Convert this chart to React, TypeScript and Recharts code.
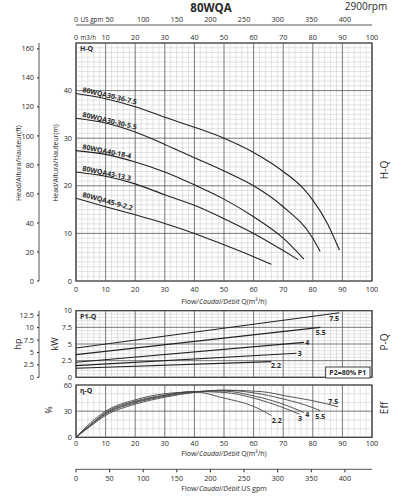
import React from "react";
import { LineChart, Line, XAxis, YAxis, ReferenceLine, ReferenceArea, LabelList } from "recharts";

const FONT = "'Open Sans', 'DejaVu Sans', sans-serif";
const INK = "#2a2a2a";

// secondary scales
const GPM_PER_M3H = 4.4029;
const FT_PER_M = 3.2808;
const HP_PER_KW = 1.341;

const FLOW_TICKS = [0, 10, 20, 30, 40, 50, 60, 70, 80, 90, 100];
const GPM_TICKS = [0, 50, 100, 150, 200, 250, 300, 350, 400];
const HEAD_TICKS = [0, 10, 20, 30, 40];
const FT_TICKS = [0, 20, 40, 60, 80, 100, 120, 140, 160];
const KW_TICKS = [0, 2.5, 5, 7.5, 10];
const HP_TICKS = [0, 2.5, 5, 7.5, 10, 12.5];
const EFF_TICKS = [0, 30, 60];

const MODELS = ["80WQA30-36-7.5", "80WQA30-30-5.5", "80WQA40-18-4", "80WQA43-13.3", "80WQA45-9-2.2"];
const MOTORS = ["7.5", "5.5", "4", "3", "2.2"];

// H-Q curves (m3/h -> m)
const HQ_FLOW_75 = [0, 10, 20, 30, 40, 50, 60, 70, 77, 80, 85, 89];
const HQ_HEAD_75 = [39.4, 38.3, 36.6, 34.4, 32.3, 30, 27, 23, 19.3, 17, 12, 6.5];
const HQ_FLOW_55 = [0, 10, 20, 30, 40, 50, 60, 70, 80, 82.5];
const HQ_HEAD_55 = [34.2, 33.2, 31.3, 28.7, 25.9, 23.1, 20, 15.6, 9, 6.2];
const HQ_FLOW_4 = [0, 10, 20, 30, 40, 50, 60, 70, 77];
const HQ_HEAD_4 = [27.4, 26.6, 25, 22.9, 20.2, 17.2, 13.5, 9, 4.6];
const HQ_FLOW_3 = [0, 10, 20, 30, 40, 50, 60, 70, 75];
const HQ_HEAD_3 = [22.9, 22, 20.4, 18.1, 15.9, 13.1, 10, 6.4, 4.5];
const HQ_FLOW_22 = [0, 10, 20, 30, 40, 50, 60, 66];
const HQ_HEAD_22 = [17.4, 15.6, 13.9, 12.1, 10, 7.6, 5.1, 3.5];

// P1-Q lines (m3/h -> kW)
const PQ_FLOW_75 = [0, 89];
const PQ_KW_75 = [4.4, 9.7];
const PQ_FLOW_55 = [0, 82.5];
const PQ_KW_55 = [3.4, 7.5];
const PQ_FLOW_4 = [0, 77];
const PQ_KW_4 = [2.25, 5.25];
const PQ_FLOW_3 = [0, 74.5];
const PQ_KW_3 = [1.75, 3.6];
const PQ_FLOW_22 = [0, 66];
const PQ_KW_22 = [1.35, 2.35];

// efficiency curves (m3/h -> %)
const EQ_FLOW_75 = [0, 5, 10, 20, 30, 40, 50, 60, 65, 70, 80, 88.6];
const EQ_EFF_75 = [0, 13, 25, 38, 46, 51.5, 54, 53, 51.5, 48, 42, 35];
const EQ_FLOW_55 = [0, 5, 10, 20, 30, 40, 50, 60, 70, 80, 82.5];
const EQ_EFF_55 = [0, 14, 26.5, 39.5, 47, 52, 54, 51, 44, 34, 30.5];
const EQ_FLOW_4 = [0, 5, 10, 20, 30, 40, 50, 60, 70, 77];
const EQ_EFF_4 = [0, 14.5, 27.5, 40.5, 48, 52.5, 53, 47.5, 38, 28.5];
const EQ_FLOW_3 = [0, 5, 10, 20, 30, 40, 50, 60, 70, 75.5];
const EQ_EFF_3 = [0, 15, 28.5, 41.5, 48.5, 52.5, 51.5, 45, 34, 26.5];
const EQ_FLOW_22 = [0, 5, 10, 20, 30, 40, 50, 60, 66];
const EQ_EFF_22 = [0, 17, 30, 43, 50, 52, 45, 35.5, 25];

const zip = (flow: number[], vals: number[]) => flow.map((f, i) => ({ flow: f, v: vals[i] }));

const HQ = [
  zip(HQ_FLOW_75, HQ_HEAD_75),
  zip(HQ_FLOW_55, HQ_HEAD_55),
  zip(HQ_FLOW_4, HQ_HEAD_4),
  zip(HQ_FLOW_3, HQ_HEAD_3),
  zip(HQ_FLOW_22, HQ_HEAD_22),
];
const PQ = [
  zip(PQ_FLOW_75, PQ_KW_75),
  zip(PQ_FLOW_55, PQ_KW_55),
  zip(PQ_FLOW_4, PQ_KW_4),
  zip(PQ_FLOW_3, PQ_KW_3),
  zip(PQ_FLOW_22, PQ_KW_22),
];
const EQ = [
  zip(EQ_FLOW_75, EQ_EFF_75),
  zip(EQ_FLOW_55, EQ_EFF_55),
  zip(EQ_FLOW_4, EQ_EFF_4),
  zip(EQ_FLOW_3, EQ_EFF_3),
  zip(EQ_FLOW_22, EQ_EFF_22),
];

// label placement
const HQ_LABEL = [
  { angle: 13, dx: 6, dy: -1.5 },
  { angle: 13.5, dx: 6, dy: -1.5 },
  { angle: 11, dx: 6, dy: -1.5 },
  { angle: 12, dx: 6, dy: -1.5 },
  { angle: 15.5, dx: 6, dy: -1.5 },
];
const PQ_LABEL = [
  { dx: -5.3, dy: 8.8 },
  { dx: 0.5, dy: 7.5 },
  { dx: 3.4, dy: 2.2 },
  { dx: 3.3, dy: 2.5 },
  { dx: 4.6, dy: 6.8 },
];
const EQ_LABEL = [
  { dx: -5, dy: -2.6 },
  { dx: 0, dy: 8.5 },
  { dx: 3.4, dy: 4.3 },
  { dx: 0.5, dy: 6.6 },
  { dx: 5.3, dy: 7 },
];

const TICK = { fontSize: 7.3, fill: INK, fontFamily: FONT };

const steps = (max: number, step: number) =>
  Array.from({ length: Math.round(max / step) + 1 }, (_, i) => +(i * step).toFixed(2));

function grid(xId: string, yId: string, xMax: number, xMinor: number, xMajor: number, yMax: number, yMinor: number, yMajor: number) {
  const isMajor = (v: number, m: number) => Math.abs(v / m - Math.round(v / m)) < 1e-6;
  const out: React.ReactNode[] = [];
  steps(xMax, xMinor)
    .filter((v) => !isMajor(v, xMajor))
    .forEach((v) => out.push(<ReferenceLine key={`xn${v}`} x={v} xAxisId={xId} yAxisId={yId} stroke="#c6c6c6" strokeWidth={0.5} />));
  steps(yMax, yMinor)
    .filter((v) => !isMajor(v, yMajor))
    .forEach((v) => out.push(<ReferenceLine key={`yn${v}`} y={v} xAxisId={xId} yAxisId={yId} stroke="#c6c6c6" strokeWidth={0.5} />));
  steps(xMax, xMajor).forEach((v) =>
    out.push(<ReferenceLine key={`xj${v}`} x={v} xAxisId={xId} yAxisId={yId} stroke="#555" strokeWidth={0.8} />)
  );
  steps(yMax, yMajor).forEach((v) =>
    out.push(<ReferenceLine key={`yj${v}`} y={v} xAxisId={xId} yAxisId={yId} stroke="#555" strokeWidth={0.8} />)
  );
  return out;
}

function TopTick(props: any) {
  const { x, y, payload, unit } = props;
  return (
    <g>
      <text x={x} y={y - 0.5} textAnchor="middle" fontSize={7.3} fill={INK} fontFamily={FONT}>
        {payload.value}
      </text>
      {payload.value === 0 && (
        <text x={x + 4.5} y={y - 0.5} textAnchor="start" fontSize={6.3} fill={INK} fontFamily={FONT}>
          {unit}
        </text>
      )}
    </g>
  );
}

const flowTitle = (
  <>
    Flow/<tspan fontStyle="italic">Caudal/Débit</tspan> Q(m³/h)
  </>
);

// axis ids: "x1"/"y1" sit next to the plot, "x2"/"y2" outside them
export default function App() {
  return (
    <div style={{ position: "absolute", left: 0, top: 0, width: 415, height: 500, fontFamily: FONT, background: "#fff" }}>
      {/* US gpm strip over the H-Q panel */}
      <div style={{ position: "absolute", left: 0, top: 10 }}>
        <LineChart width={415} height={16} data={HQ[0]} margin={{ top: 0, bottom: 0, left: 76, right: 43 }}>
          <XAxis xAxisId="g" dataKey="flow" type="number" orientation="top" domain={[0, 100 * GPM_PER_M3H]} ticks={GPM_TICKS}
            height={15} interval={0} allowDataOverflow axisLine={{ stroke: INK, strokeWidth: 0.8 }}
            tickLine={false} tickSize={0} tickMargin={3} tick={<TopTick unit="US gpm" />} />
          <YAxis yAxisId="g" dataKey="v" type="number" domain={[0, 50]} hide allowDataOverflow />
        </LineChart>
      </div>

      <div style={{ position: "absolute", left: 0, top: 0 }}>
        <LineChart width={415} height={306} data={HQ[0]} margin={{ top: 25, right: 43, bottom: 0, left: 4 }}>
          <XAxis xAxisId="xt" dataKey="flow" type="number" orientation="top" domain={[0, 100]} ticks={FLOW_TICKS} height={18} interval={0}
            axisLine={false} tickLine={false} tickSize={0} tickMargin={3} tick={<TopTick unit="m3/h" />} allowDataOverflow />
          <XAxis xAxisId="x1" dataKey="flow" type="number" orientation="bottom" domain={[0, 100]} ticks={FLOW_TICKS} height={25} interval={0}
            axisLine={false} tickLine={false} tickSize={0} tickMargin={6} tick={TICK} allowDataOverflow />
          <YAxis yAxisId="y2" type="number" domain={[0, 50 * FT_PER_M]} ticks={FT_TICKS} width={35} interval={0}
            axisLine={{ stroke: INK, strokeWidth: 0.8 }} tickLine={{ stroke: INK }} tickSize={2} tickMargin={3} tick={TICK} allowDataOverflow />
          <YAxis yAxisId="y1" type="number" domain={[0, 50]} ticks={HEAD_TICKS} width={37} interval={0}
            axisLine={false} tickLine={false} tickSize={0} tickMargin={4} tick={TICK} allowDataOverflow />
          {grid("x1", "y1", 100, 2, 10, 50, 1, 10)}
          <ReferenceArea xAxisId="x1" yAxisId="y1" x1={0} x2={100} y1={0} y2={50} fill="none" stroke={INK} strokeWidth={1.2} fillOpacity={0} />
          {HQ.map((d, i) => (
            <Line key={MODELS[i]} xAxisId="x1" yAxisId="y1" data={d} dataKey="v" type="monotone" stroke="#222" strokeWidth={1.1}
              dot={false} isAnimationActive={false}>
              <LabelList dataKey="v" content={startLabel(MODELS[i], HQ_LABEL[i])} />
            </Line>
          ))}
        </LineChart>
      </div>

      <div style={{ position: "absolute", left: 0, top: 300 }}>
        <LineChart width={415} height={81} data={PQ[0]} margin={{ top: 10.7, right: 43, bottom: 3.7, left: 4 }}>
          <XAxis xAxisId="x1" dataKey="flow" type="number" domain={[0, 100]} hide allowDataOverflow />
          <YAxis yAxisId="y2" type="number" domain={[0, 10 * HP_PER_KW]} ticks={HP_TICKS} width={35} interval={0}
            axisLine={{ stroke: INK, strokeWidth: 0.8 }} tickLine={{ stroke: INK }} tickSize={2} tickMargin={3} tick={TICK} allowDataOverflow />
          <YAxis yAxisId="y1" type="number" domain={[0, 10]} ticks={KW_TICKS} width={37} interval={0}
            axisLine={false} tickLine={false} tickSize={0} tickMargin={4} tick={TICK} allowDataOverflow />
          {grid("x1", "y1", 100, 2, 10, 10, 0.5, 2.5)}
          <ReferenceArea xAxisId="x1" yAxisId="y1" x1={0} x2={100} y1={0} y2={10} fill="none" stroke={INK} strokeWidth={1.2} fillOpacity={0} />
          {PQ.map((d, i) => (
            <Line key={MOTORS[i]} xAxisId="x1" yAxisId="y1" data={d} dataKey="v" type="linear" stroke="#222" strokeWidth={1.1}
              dot={false} isAnimationActive={false}>
              <LabelList dataKey="v" content={endLabel(MOTORS[i], d.length - 1, PQ_LABEL[i])} />
            </Line>
          ))}
        </LineChart>
      </div>

      <div style={{ position: "absolute", left: 0, top: 380 }}>
        <LineChart width={415} height={120} data={EQ[0]} margin={{ top: 5, right: 43, bottom: 2.7, left: 4 }}>
          <XAxis xAxisId="x2" dataKey="flow" type="number" domain={[0, 100 * GPM_PER_M3H]} ticks={GPM_TICKS} height={28} interval={0}
            axisLine={{ stroke: INK, strokeWidth: 0.8 }} tickLine={{ stroke: INK }} tickSize={3} tickMargin={4} tick={TICK} allowDataOverflow />
          <XAxis xAxisId="x1" dataKey="flow" type="number" domain={[0, 100]} ticks={FLOW_TICKS} height={32} interval={0}
            axisLine={false} tickLine={false} tickSize={0} tickMargin={4} tick={TICK} allowDataOverflow />
          <YAxis yAxisId="y1" type="number" domain={[0, 60]} ticks={EFF_TICKS} width={72} interval={0}
            axisLine={false} tickLine={false} tickSize={0} tickMargin={4} tick={TICK} allowDataOverflow />
          {grid("x1", "y1", 100, 2, 10, 60, 10, 30)}
          <ReferenceArea xAxisId="x1" yAxisId="y1" x1={0} x2={100} y1={0} y2={60} fill="none" stroke={INK} strokeWidth={1.2} fillOpacity={0} />
          {EQ.map((d, i) => (
            <Line key={MOTORS[i]} xAxisId="x1" yAxisId="y1" data={d} dataKey="v" type="monotone" stroke="#444" strokeWidth={0.9}
              dot={false} isAnimationActive={false}>
              <LabelList dataKey="v" content={endLabel(MOTORS[i], d.length - 1, EQ_LABEL[i])} />
            </Line>
          ))}
        </LineChart>
      </div>

      <svg width={415} height={500} style={{ position: "absolute", left: 0, top: 0, pointerEvents: "none" }} fontFamily={FONT} fill={INK}>
        <text x={211} y={12} textAnchor="middle" fontSize={11.5} fontWeight={700}>80WQA</text>
        <text x={366} y={10} textAnchor="middle" fontSize={10}>2900rpm</text>

        <text x={80} y={51} fontSize={7} fontWeight={700}>H-Q</text>
        <text x={80} y={319} fontSize={7} fontWeight={700}>P1-Q</text>
        <text x={80} y={392.5} fontSize={7} fontWeight={700}>η-Q</text>

        <text transform="translate(21,163) rotate(-90)" textAnchor="middle" fontSize={6.8}>Head/Altura/Hauteur(ft)</text>
        <text transform="translate(58,163) rotate(-90)" textAnchor="middle" fontSize={6.8}>Head/Altura/Hauteur(m)</text>
        <text transform="translate(21,344) rotate(-90)" textAnchor="middle" fontSize={9}>hp</text>
        <text transform="translate(58,344) rotate(-90)" textAnchor="middle" fontSize={9}>kW</text>
        <text transform="translate(51.5,410) rotate(-90)" textAnchor="middle" fontSize={9}>%</text>

        <text transform="translate(388,170) rotate(-90)" textAnchor="middle" fontSize={10}>H-Q</text>
        <text transform="translate(388,342) rotate(-90)" textAnchor="middle" fontSize={10}>P-Q</text>
        <text transform="translate(388,408) rotate(-90)" textAnchor="middle" fontSize={10}>Eff</text>

        <text x={224} y={303.5} textAnchor="middle" fontSize={7}>{flowTitle}</text>
        <text x={224} y={455.5} textAnchor="middle" fontSize={7}>{flowTitle}</text>
        <text x={224} y={491} textAnchor="middle" fontSize={7}>
          Flow/<tspan fontStyle="italic">Caudal/Débit</tspan>  US gpm
        </text>

        <rect x={325.7} y={367} width={44.3} height={11} fill="#fff" stroke={INK} strokeWidth={0.9} />
        <text x={347.8} y={375} textAnchor="middle" fontSize={7} fontWeight={700}>P2=80% P1</text>
      </svg>
    </div>
  );
}

function startLabel(name: string, cfg: { angle: number; dx: number; dy: number }) {
  return (p: any) => {
    if (p.index !== 0) return null;
    const x = p.x + cfg.dx;
    const y = p.y + cfg.dy;
    return (
      <text x={x} y={y} transform={`rotate(${cfg.angle} ${x} ${y})`} fontSize={7} fontWeight={700} fill={INK} fontFamily={FONT}>
        {name}
      </text>
    );
  };
}

function endLabel(name: string, last: number, cfg: { dx: number; dy: number }) {
  return (p: any) => {
    if (p.index !== last) return null;
    return (
      <text x={p.x + cfg.dx} y={p.y + cfg.dy} textAnchor="middle" fontSize={7} fontWeight={700} fill={INK} fontFamily={FONT}>
        {name}
      </text>
    );
  };
}
